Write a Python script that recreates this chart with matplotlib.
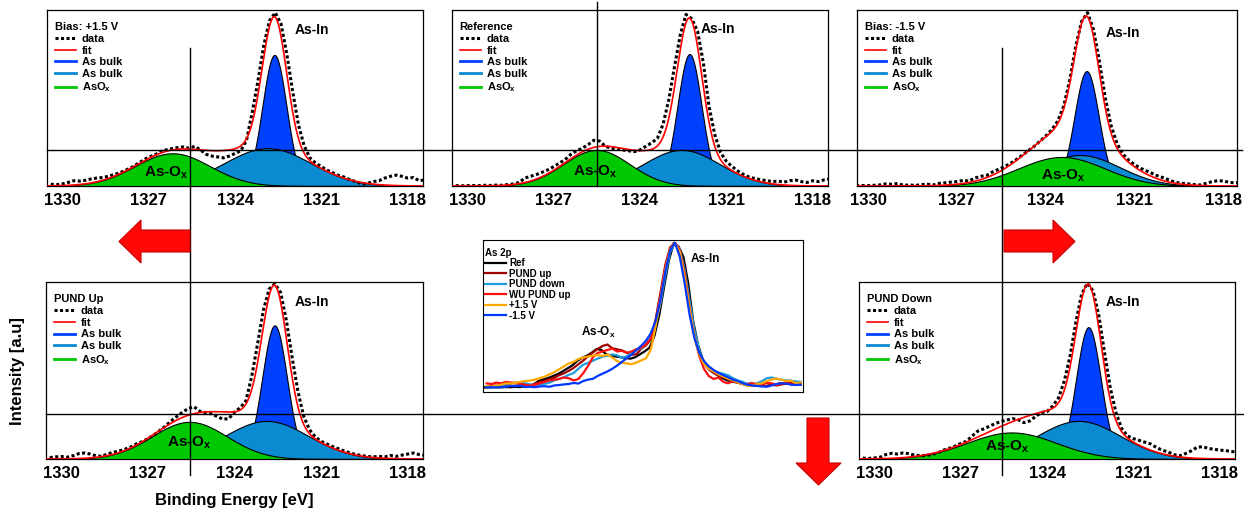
import numpy as np
import matplotlib
matplotlib.use("Agg")
import matplotlib.pyplot as plt
from matplotlib.lines import Line2D
from matplotlib.patches import Polygon

plt.rcParams['font.family'] = ['Liberation Sans', 'DejaVu Sans']
plt.rcParams['font.weight'] = 'bold'
plt.rcParams['mathtext.fontset'] = 'custom'
plt.rcParams['mathtext.rm'] = 'Liberation Sans:bold'
plt.rcParams['mathtext.bf'] = 'Liberation Sans:bold'
plt.rcParams['mathtext.it'] = 'Liberation Sans:bold'

W, H = 1244, 509
fig = plt.figure(figsize=(W / 100, H / 100), dpi=100)

def fx(px):
    return px / W

def fy(py):
    return 1 - py / H

# ---------------- data ----------------
panel_titles = ["Bias: +1.5 V", "Reference", "Bias: -1.5 V", "PUND Up", "PUND Down"]

# fitted components: center (eV), height (norm.), sigma (eV)
bulk1_center = [1322.63, 1322.28, 1322.63, 1322.61, 1322.56]
bulk1_height = [0.745, 0.75, 0.653, 0.755, 0.745]
bulk1_sigma = [0.42, 0.42, 0.41, 0.43, 0.43]
bulk2_center = [1322.87, 1322.56, 1322.86, 1322.89, 1322.90]
bulk2_height = [0.215, 0.205, 0.176, 0.215, 0.215]
bulk2_sigma = [1.5, 1.33, 1.35, 1.45, 1.45]
asox_center = [1326.17, 1325.51, 1323.47, 1325.56, 1325.23]
asox_height = [0.186, 0.205, 0.165, 0.21, 0.15]
asox_sigma = [1.3, 1.15, 1.45, 1.3, 1.55]

energy = [1330.4, 1330.2, 1330.0, 1329.8, 1329.6, 1329.4, 1329.2, 1329.0, 1328.8, 1328.6,
          1328.4, 1328.2, 1328.0, 1327.8, 1327.6, 1327.4, 1327.2, 1327.0, 1326.8, 1326.6,
          1326.4, 1326.2, 1326.0, 1325.8, 1325.6, 1325.4, 1325.2, 1325.0, 1324.8, 1324.6,
          1324.4, 1324.2, 1324.0, 1323.8, 1323.6, 1323.4, 1323.2, 1323.0, 1322.8, 1322.6,
          1322.4, 1322.2, 1322.0, 1321.8, 1321.6, 1321.4, 1321.2, 1321.0, 1320.8, 1320.6,
          1320.4, 1320.2, 1320.0, 1319.8, 1319.6, 1319.4, 1319.2, 1319.0, 1318.8, 1318.6,
          1318.4, 1318.2, 1318.0, 1317.8, 1317.6, 1317.4]

data_bias_pos = [0.010, 0.008, 0.012, 0.020, 0.030, 0.028, 0.032, 0.040, 0.045, 0.048,
                 0.055, 0.065, 0.075, 0.090, 0.105, 0.125, 0.145, 0.165, 0.175, 0.195,
                 0.205, 0.212, 0.218, 0.222, 0.215, 0.225, 0.205, 0.180, 0.170, 0.165,
                 0.160, 0.170, 0.185, 0.200, 0.260, 0.420, 0.600, 0.800, 0.940, 0.985,
                 0.920, 0.750, 0.540, 0.350, 0.230, 0.160, 0.130, 0.110, 0.090, 0.075,
                 0.060, 0.050, 0.035, 0.025, 0.012, 0.015, 0.025, 0.030, 0.045, 0.055,
                 0.062, 0.055, 0.045, 0.048, 0.030, 0.035]

data_ref = [0.002, 0.001, 0.002, 0.003, 0.002, 0.004, 0.003, 0.005, 0.004, 0.008,
            0.012, 0.020, 0.045, 0.055, 0.065, 0.078, 0.092, 0.110, 0.130, 0.150,
            0.180, 0.200, 0.215, 0.235, 0.260, 0.255, 0.225, 0.215, 0.210, 0.205,
            0.200, 0.195, 0.205, 0.225, 0.245, 0.270, 0.350, 0.490, 0.680, 0.860,
            0.975, 0.950, 0.880, 0.700, 0.450, 0.290, 0.190, 0.140, 0.110, 0.085,
            0.065, 0.050, 0.042, 0.035, 0.030, 0.025, 0.028, 0.022, 0.030, 0.034,
            0.025, 0.020, 0.030, 0.025, 0.035, 0.040]

data_bias_neg = [0.002, 0.003, 0.002, 0.004, 0.006, 0.012, 0.010, 0.014, 0.004, 0.006,
                 0.003, 0.008, 0.010, 0.006, 0.015, 0.018, 0.022, 0.025, 0.032, 0.028,
                 0.045, 0.055, 0.060, 0.080, 0.095, 0.110, 0.128, 0.150, 0.175, 0.200,
                 0.225, 0.255, 0.285, 0.320, 0.370, 0.455, 0.600, 0.790, 0.935, 0.985,
                 0.890, 0.710, 0.500, 0.340, 0.240, 0.180, 0.145, 0.120, 0.100, 0.085,
                 0.070, 0.055, 0.045, 0.030, 0.020, 0.015, 0.012, 0.008, 0.006, 0.015,
                 0.025, 0.030, 0.028, 0.020, 0.018, 0.020]

data_pund_up = [0.008, 0.012, 0.014, 0.010, 0.018, 0.030, 0.034, 0.028, 0.018, 0.015,
                0.028, 0.038, 0.045, 0.055, 0.068, 0.085, 0.098, 0.115, 0.135, 0.160,
                0.185, 0.215, 0.240, 0.265, 0.285, 0.295, 0.270, 0.262, 0.255, 0.240,
                0.225, 0.228, 0.265, 0.290, 0.330, 0.470, 0.650, 0.840, 0.960, 0.990,
                0.940, 0.780, 0.570, 0.380, 0.240, 0.165, 0.125, 0.100, 0.085, 0.070,
                0.058, 0.045, 0.035, 0.025, 0.020, 0.014, 0.012, 0.015, 0.012, 0.020,
                0.015, 0.022, 0.028, 0.034, 0.025, 0.020]

data_pund_down = [0.005, 0.003, 0.006, 0.010, 0.025, 0.032, 0.028, 0.034, 0.030, 0.022,
                  0.018, 0.020, 0.026, 0.034, 0.050, 0.060, 0.072, 0.088, 0.100, 0.130,
                  0.158, 0.170, 0.185, 0.200, 0.212, 0.220, 0.228, 0.222, 0.205, 0.215,
                  0.240, 0.262, 0.268, 0.300, 0.345, 0.440, 0.580, 0.770, 0.930, 0.993,
                  0.950, 0.810, 0.600, 0.400, 0.260, 0.170, 0.130, 0.115, 0.105, 0.095,
                  0.085, 0.065, 0.050, 0.040, 0.025, 0.018, 0.030, 0.045, 0.065, 0.070,
                  0.060, 0.055, 0.050, 0.048, 0.042, 0.040]

data_wu_pund_up = [0.030, 0.025, 0.035, 0.030, 0.040, 0.035, 0.030, 0.025, 0.020, 0.015,
                   0.020, 0.030, 0.040, 0.050, 0.055, 0.060, 0.070, 0.065, 0.050, 0.060,
                   0.100, 0.150, 0.210, 0.240, 0.250, 0.260, 0.270, 0.250, 0.255, 0.240,
                   0.250, 0.265, 0.275, 0.300, 0.340, 0.450, 0.630, 0.830, 0.960, 1.000,
                   0.950, 0.790, 0.560, 0.360, 0.220, 0.130, 0.080, 0.060, 0.070, 0.040,
                   0.030, 0.045, 0.035, 0.025, 0.020, 0.030, 0.025, 0.020, 0.035, 0.030,
                   0.020, 0.030, 0.035, 0.025, 0.020, 0.030]

panel_data = [data_bias_pos, data_ref, data_bias_neg, data_pund_up, data_pund_down]

inset_labels = ['Ref', 'PUND up', 'PUND down', 'WU PUND up', '+1.5 V', '-1.5 V']
inset_data = [data_ref, data_pund_up, data_pund_down, data_wu_pund_up, data_bias_pos, data_bias_neg]
inset_energy_shift = [0.25, 0.0, 0.0, 0.0, 0.0, 0.0]

xticks = [1330, 1327, 1324, 1321, 1318]

# ---------------- drawing ----------------
def gauss(x, c, h, s):
    return h * np.exp(-(x - c) ** 2 / (2 * s ** 2))

boxes = [(47, 10, 423, 186), (452, 10, 828, 186), (857, 10, 1237, 186),
         (46, 282, 423, 459), (859, 282, 1235, 459)]
xlims = [(1330.53, 1317.47), (1330.53, 1317.47), (1330.37, 1317.56),
         (1330.53, 1317.47), (1330.53, 1317.47)]
asin_pos = [(312, 30), (718, 29), (1123, 33), (312, 302), (1123, 302)]
asox_pos = [(166, 173), (595, 172), (1063, 176), (189, 443), (1007, 447)]

C_B1, C_B2, C_OX = '#0040FF', '#0A8AD0', '#00C800'
DOT = (0, (1, 0.8))
xf = np.linspace(1331, 1317, 800)
E = np.array(energy)
for i in range(5):
    l, t, r, b = boxes[i]
    ax = fig.add_axes([fx(l), fy(b), (r - l) / W, (b - t) / H])
    g1 = gauss(xf, bulk1_center[i], bulk1_height[i], bulk1_sigma[i])
    g2 = gauss(xf, bulk2_center[i], bulk2_height[i], bulk2_sigma[i])
    g3 = gauss(xf, asox_center[i], asox_height[i], asox_sigma[i])
    ax.fill_between(xf, 0, g1, facecolor=C_B1, edgecolor='k', lw=0.8, zorder=1)
    ax.fill_between(xf, 0, g2, facecolor=C_B2, edgecolor='k', lw=0.8, zorder=2)
    ax.fill_between(xf, 0, g3, facecolor=C_OX, edgecolor='k', lw=0.8, zorder=3)
    ax.plot(E, panel_data[i], color='k', lw=2.2, linestyle=DOT, zorder=4)
    ax.plot(xf, g1 + g2 + g3, color='#FF0000', lw=1.2, zorder=5)
    ax.set_xlim(*xlims[i])
    ax.set_ylim(0, 1.0)
    ax.set_xticks(xticks)
    ax.set_xticklabels([str(v) for v in xticks], fontsize=12, fontweight='bold')
    ax.set_yticks([])
    ax.tick_params(axis='x', length=0, pad=5)
    for sp in ax.spines.values():
        sp.set_linewidth(0.9)
    handles = [Line2D([], [], color='k', lw=2.2, linestyle=DOT),
               Line2D([], [], color='#FF0000', lw=1.2),
               Line2D([], [], color=C_B1, lw=2),
               Line2D([], [], color=C_B2, lw=2),
               Line2D([], [], color=C_OX, lw=2)]
    labels = ['data', 'fit', 'As bulk', 'As bulk', 'AsO$_x$']
    ax.legend(handles, labels, loc='upper left', bbox_to_anchor=(0.02, 0.93),
              frameon=False, prop={'weight': 'bold', 'size': 8},
              title=panel_titles[i], title_fontproperties={'weight': 'bold', 'size': 8},
              handlelength=1.9, handletextpad=0.55, labelspacing=0.15,
              borderpad=0, borderaxespad=0, alignment='left')
    fig.text(fx(asin_pos[i][0]), fy(asin_pos[i][1]), 'As-In', fontsize=10,
             fontweight='bold', ha='center', va='center')
    fig.text(fx(asox_pos[i][0]), fy(asox_pos[i][1]), 'As-O$_x$', fontsize=11,
             fontweight='bold', ha='center', va='center', zorder=10)

inset_colors = ['#000000', '#A00000', '#1E9FE0', '#FF1010', '#FFA800', '#0038FF']
axi = fig.add_axes([fx(483), fy(392), 320 / W, 152 / H])
for k in range(6):
    y = np.array(inset_data[k])
    axi.plot(E + inset_energy_shift[k], y / y.max(), color=inset_colors[k], lw=1.6,
             label=inset_labels[k])
axi.set_xlim(1330.55, 1317.3)
axi.set_ylim(-0.03, 1.02)
axi.set_xticks([])
axi.set_yticks([])
axi.legend(loc='upper left', bbox_to_anchor=(0.005, 0.95), frameon=False,
           prop={'weight': 'bold', 'size': 7}, title='As 2p',
           title_fontproperties={'weight': 'bold', 'size': 7},
           handlelength=2.2, handletextpad=0.3, labelspacing=0.05,
           borderpad=0, borderaxespad=0, alignment='left')
fig.text(fx(705), fy(259), 'As-In', fontsize=8.5, fontweight='bold', ha='center', va='center')
fig.text(fx(598), fy(332), 'As-O$_x$', fontsize=8.5, fontweight='bold', ha='center', va='center')

def fline(x0, y0, x1, y1):
    fig.add_artist(Line2D([fx(x0), fx(x1)], [fy(y0), fy(y1)], color='k', lw=1.0, zorder=20))

fline(47, 150, 1242, 150)
fline(46, 414, 1244, 414)
fline(190, 48, 190, 475)
fline(597, 2, 597, 186)
fline(1002, 48, 1002, 475)

def farrow(pts):
    fig.add_artist(Polygon([(fx(a), fy(b)) for a, b in pts], closed=True,
                           facecolor='#FF0808', edgecolor='#C80000', lw=0.8, zorder=21))

farrow([(119, 241.5), (141, 220), (141, 230), (190, 230), (190, 252), (141, 252), (141, 263)])
farrow([(1075, 241.5), (1053, 220), (1053, 230), (1004, 230), (1004, 252), (1053, 252), (1053, 263)])
farrow([(818.5, 485), (796, 463), (807, 463), (807, 418), (829, 418), (829, 463), (841, 463)])

fig.text(fx(234), fy(500), 'Binding Energy [eV]', fontsize=12, fontweight='bold', ha='center', va='center')
fig.text(fx(18), fy(371), 'Intensity [a.u]', fontsize=12, fontweight='bold', ha='center', va='center', rotation=90)

fig.savefig('out.png', dpi=100)
